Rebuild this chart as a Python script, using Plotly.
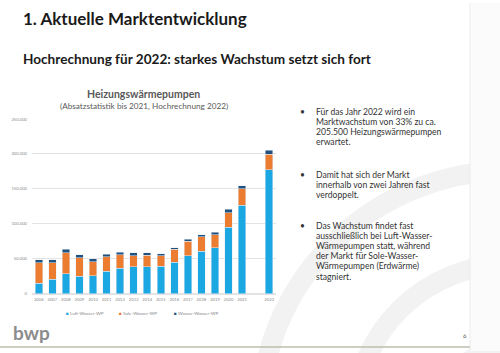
import plotly.graph_objects as go

years = ["2006", "2007", "2008", "2009", "2010", "2011", "2012", "2013", "2014",
         "2015", "2016", "2017", "2018", "2019", "2020", "2021", " ", "2022"]
luft_wasser = [15400, 21000, 29000, 24800, 26000, 32200, 36400, 38800, 38700,
               39200, 45300, 54800, 60900, 66100, 95300, 127000, None, 177500]
sole_wasser = [29000, 23400, 29400, 26600, 20200, 20600, 19200, 15800, 16500,
               15100, 18400, 20200, 20800, 18400, 20800, 23100, None, 22000]
wasser_wasser = [4200, 4600, 5100, 4200, 4200, 3700, 3700, 4200, 3300,
                 2800, 2400, 2900, 2800, 3300, 4700, 4700, None, 6000]
series_names = ["Luft-Wasser-WP", "Sole-Wasser-WP", "Wasser-Wasser-WP"]
series_colors = ["#1ba7e1", "#ec7c30", "#21527f"]
y_ticks = [0, 50000, 100000, 150000, 200000, 250000]
y_tick_labels = ["0", "50.000", "100.000", "150.000", "200.000", "250.000"]

W, H = 500, 353
FONT = "Lato"

def px(x):
    return x / W

def py(y):
    return 1 - y / H

fig = go.Figure()
for vals, name, col in zip([luft_wasser, sole_wasser, wasser_wasser], series_names, series_colors):
    fig.add_trace(go.Bar(x=years, y=vals, name=name, marker_color=col, showlegend=False))

# watermark arcs
shapes = []
cx, cy = 510, 420
for r in [250, 155, 70]:
    shapes.append(dict(type="circle", xref="paper", yref="paper",
                       x0=px(cx - r), x1=px(cx + r), y0=py(cy + r), y1=py(cy - r),
                       line=dict(color="#f2f2f2", width=20), layer="below"))
shapes.append(dict(type="rect", xref="paper", yref="paper", x0=px(470), x1=1, y0=0, y1=1,
                   fillcolor="#fbfbfb", line=dict(width=0), layer="below"))
shapes.append(dict(type="line", xref="paper", yref="paper", x0=px(470), x1=px(470), y0=0, y1=1,
                   line=dict(color="#ececec", width=1)))
shapes.append(dict(type="line", xref="paper", yref="paper", x0=0, x1=px(470), y0=py(349), y1=py(349),
                   line=dict(color="#b9bfae", width=1.5)))

ann = []
def text(x, y, s, size, color="#222", bold=False, anchor="left"):
    ann.append(dict(x=px(x), y=py(y), xref="paper", yref="paper", text=(f"<b>{s}</b>" if bold else s),
                    showarrow=False, xanchor=anchor, yanchor="middle",
                    font=dict(family=FONT, size=size, color=color)))

text(21, 16, "1. Aktuelle Marktentwicklung", 17, "#1a1a1a", True)
text(21, 57, "Hochrechnung für 2022: starkes Wachstum setzt sich fort", 13.6, "#1a1a1a", True)
text(143, 92, "Heizungswärmepumpen", 10.5, "#595959", True, "center")
text(144, 104.5, "(Absatzstatistik bis 2021, Hochrechnung 2022)", 8.2, "#595959", False, "center")

bullets = [
    (110.5, ["Für das Jahr 2022 wird ein", "Marktwachstum von 33% zu ca.",
             "205.500 Heizungswärmepumpen", "erwartet."]),
    (174.5, ["Damit hat sich der Markt", "innerhalb von zwei Jahren fast", "verdoppelt."]),
    (226, ["Das Wachstum findet fast", "ausschließlich bei Luft-Wasser-",
           "Wärmepumpen statt, während", "der Markt für Sole-Wasser-",
           "Wärmepumpen (Erdwärme)", "stagniert."]),
]
for y0, lines in bullets:
    text(298, y0, "•", 8.5, "#333")
    for i, line in enumerate(lines):
        text(314, y0 + i * 10.3, line, 8.6, "#333")

# legend row
for lx, name, col in zip([64, 117, 172], series_names, series_colors):
    ann.append(dict(x=px(lx), y=py(314.5), xref="paper", yref="paper", showarrow=False,
                    xanchor="left", yanchor="middle",
                    text=f"<span style='color:{col}'>■</span> {name}",
                    font=dict(family=FONT, size=4.6, color="#8a8a8a")))

text(11, 334, "bwp", 19, "#8c8c8c", True)
text(461, 337, "6", 6, "#555")

fig.update_layout(
    width=W, height=H,
    margin=dict(l=0, r=0, t=0, b=0),
    barmode="stack", bargap=0.45,
    paper_bgcolor="white", plot_bgcolor="rgba(0,0,0,0)",
    font=dict(family=FONT, color="#888"),
    xaxis=dict(domain=[px(32), px(276)], type="category", tickfont=dict(size=4.2, color="#8a8a8a"),
               showgrid=False, showline=False, ticks="", ticklabelstandoff=2),
    yaxis=dict(domain=[py(295), py(117.7)], range=[0, 250000], tickvals=y_ticks, ticktext=y_tick_labels,
               tickfont=dict(size=4.2, color="#8a8a8a"), gridcolor="#e3e3e3", gridwidth=1,
               zeroline=True, zerolinecolor="#e3e3e3", showline=False, ticks="", ticklabelstandoff=4),
    showlegend=False,
    shapes=shapes, annotations=ann,
)

fig.write_html("out.html")
